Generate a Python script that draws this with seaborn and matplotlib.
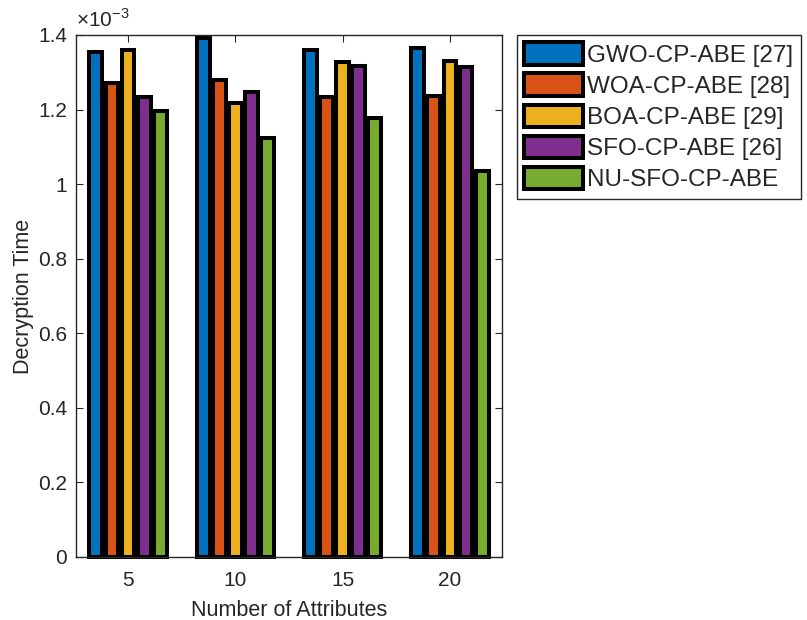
import pandas as pd
import numpy as np
import matplotlib
matplotlib.use('Agg')
import matplotlib.pyplot as plt
import matplotlib.patches as mpatches
from matplotlib.ticker import FuncFormatter, MultipleLocator
import seaborn as sns

# ==========================================
# Data (decryption time, x1e-3)
# ==========================================
attributes = ['5', '10', '15', '20']
methods = ['GWO-CP-ABE [27]', 'WOA-CP-ABE [28]', 'BOA-CP-ABE [29]',
           'SFO-CP-ABE [26]', 'NU-SFO-CP-ABE']
gwo = [1.355, 1.392, 1.359, 1.366]
woa = [1.271, 1.278, 1.235, 1.237]
boa = [1.359, 1.218, 1.328, 1.331]
sfo = [1.234, 1.248, 1.318, 1.313]
nu_sfo = [1.196, 1.125, 1.178, 1.036]
colors = ['#0072BD', '#D95319', '#EDB120', '#7E2F8E', '#77AC30']

rows = []
for m, vals in zip(methods, [gwo, woa, boa, sfo, nu_sfo]):
    for a, v in zip(attributes, vals):
        rows.append({'Attributes': a, 'Time': v * 1e-3, 'Method': m})
df = pd.DataFrame(rows)

# ==========================================
# Plot
# ==========================================
sns.set_style('ticks')
plt.rcParams['font.family'] = ['Liberation Sans', 'DejaVu Sans']

fig = plt.figure(figsize=(8.07, 6.2), dpi=100)
ax = fig.add_axes([76 / 807, 1 - 557 / 620, 426 / 807, 522 / 620])

sns.barplot(data=df, x='Attributes', y='Time', hue='Method',
            order=attributes, hue_order=methods, palette=colors,
            width=0.75, gap=0.2, saturation=1, errorbar=None,
            edgecolor='black', linewidth=2.9, ax=ax)
for p in ax.patches:
    p.set_clip_on(False)

ax.set_ylim(0, 1.4e-3)
ax.set_xlim(-0.485, 3.485)
ax.yaxis.set_major_locator(MultipleLocator(0.2e-3))
ax.yaxis.set_major_formatter(FuncFormatter(lambda v, pos: '%g' % round(v * 1e3, 3)))
ax.text(0.0, 1.008, '×10$^{\\mathregular{-3}}$', transform=ax.transAxes,
        fontsize=15, ha='left', va='bottom', color='#262626')

for side in ['top', 'right', 'bottom', 'left']:
    ax.spines[side].set_visible(True)
    ax.spines[side].set_color('#262626')
    ax.spines[side].set_linewidth(1.0)
ax.tick_params(direction='in', top=True, right=True, length=5,
               labelsize=15, colors='#262626', width=0.8)
ax.tick_params(axis='x', pad=10)
ax.tick_params(axis='y', pad=6.5)
ax.set_xlabel('Number of Attributes', fontsize=15.5, color='#262626', labelpad=7)
ax.set_ylabel('Decryption Time', fontsize=15.5, color='#262626', labelpad=3)

# Legend outside the axes
if ax.get_legend() is not None:
    ax.get_legend().remove()
handles = [mpatches.Patch(facecolor=c, edgecolor='black', linewidth=2.9)
           for c in colors]
leg = fig.legend(handles, methods, loc='upper left',
                 bbox_to_anchor=(517 / 807, 1 - 35 / 620),
                 fontsize=17.5, frameon=True, fancybox=False,
                 edgecolor='#262626', framealpha=1,
                 handlelength=2.4, handleheight=1.05, handletextpad=0.2,
                 labelspacing=0.27, borderpad=0.3, borderaxespad=0)
leg.get_frame().set_linewidth(1.0)

fig.savefig('out.png', dpi=100)
